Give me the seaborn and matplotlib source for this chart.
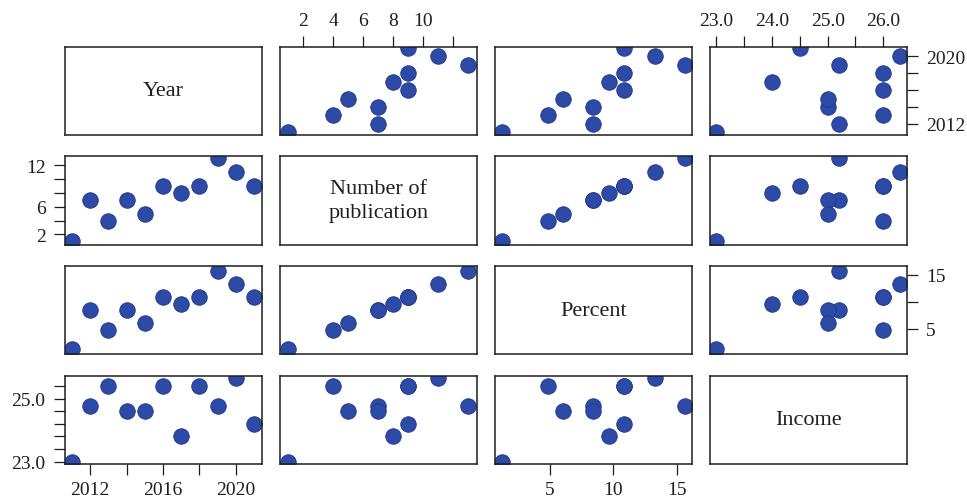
import matplotlib
matplotlib.use("Agg")
import matplotlib.pyplot as plt
import numpy as np
import pandas as pd
import seaborn as sns

# ---------------- data ----------------
year = [2011, 2012, 2013, 2014, 2015, 2016, 2017, 2018, 2019, 2020, 2021]
number = [1, 7, 4, 7, 5, 9, 8, 9, 13, 11, 9]
percent = [1.20, 8.43, 4.82, 8.43, 6.02, 10.84, 9.64, 10.84, 15.66, 13.25, 10.84]
income = [23.0, 25.2, 26.0, 25.0, 25.0, 26.0, 24.0, 26.0, 25.2, 26.3, 24.5]

var_names = ["Year", "Number", "Percent", "Income"]
diag_labels = ["Year", "Number of\npublication", "Percent", "Income"]

# tick positions / labels (as drawn)
year_ticks = [2012, 2014, 2016, 2018, 2020]
year_bottom_labels = ["2012", "", "2016", "", "2020"]
year_right_labels = ["2012", "", "", "", "2020"]
number_ticks = [2, 4, 6, 8, 10, 12]
number_top_labels = ["2", "4", "6", "8", "10", ""]
number_left_labels = ["2", "", "6", "", "", "12"]
percent_ticks = [5, 10, 15]
percent_bottom_labels = ["5", "10", "15"]
percent_right_labels = ["5", "", "15"]
income_ticks = [23.0, 23.5, 24.0, 24.5, 25.0, 25.5, 26.0]
income_top_labels = ["23.0", "", "24.0", "", "25.0", "", "26.0"]
income_left_labels = ["23.0", "", "", "", "", "25.0", ""]

df = pd.DataFrame({"Year": year, "Number": number,
                   "Percent": percent, "Income": income})

sns.set_style("white")
plt.rcParams["font.family"] = ["Liberation Serif", "DejaVu Serif"]

dot_color = "#2D4AA6"
edge_color = "#21388E"
text_color = "#1e1e1e"

g = sns.PairGrid(df, vars=var_names, height=1.2, aspect=2.2,
                 despine=False, diag_sharey=False)
g.map_offdiag(sns.scatterplot, s=125, color=dot_color,
              edgecolor=edge_color, linewidth=0.6)

fig = g.figure
fig.set_size_inches(9.67, 5.02)
fig.subplots_adjust(left=65 / 967, right=906.7 / 967,
                    top=1 - 47.7 / 502, bottom=1 - 465 / 502,
                    wspace=0.094, hspace=0.243)

axes = g.axes
n = len(var_names)

# limits (horizontal per column, vertical per row)
xlims = [(2010.62, 2021.42), (0.45, 13.6), (0.66, 16.18), (22.89, 26.42)]
ylims = [(2010.68, 2021.15), (0.53, 13.3), (0.27, 16.6), (22.91, 26.4)]

for i in range(n):
    for j in range(n):
        ax = axes[i, j]
        ax.set_xlabel("")
        ax.set_ylabel("")
        ax.tick_params(axis="both", which="both",
                       bottom=False, top=False, left=False, right=False,
                       labelbottom=False, labeltop=False,
                       labelleft=False, labelright=False)
        for sp in ax.spines.values():
            sp.set_visible(True)
            sp.set_linewidth(1.1)
            sp.set_color(text_color)
        if i == j:
            ax.text(0.5, 0.5, diag_labels[i], ha="center", va="center",
                    transform=ax.transAxes, fontsize=16,
                    color=text_color, linespacing=1.3)

for j in range(n):
    axes[0, j].set_xlim(*xlims[j])
for i in range(n):
    axes[i, 0].set_ylim(*ylims[i])

xtick_kw = dict(length=8, width=0.9, pad=4.5, labelsize=14,
                colors=text_color)
ytick_kw = dict(length=8, width=0.9, pad=6, labelsize=14,
                colors=text_color)

# Year: bottom (row 4, col 1), right (row 1, col 4)
ax = axes[3, 0]
ax.set_xticks(year_ticks)
ax.set_xticklabels(year_bottom_labels)
ax.tick_params(axis="x", bottom=True, labelbottom=True, **xtick_kw)
ax = axes[0, 3]
ax.set_yticks(year_ticks)
ax.set_yticklabels(year_right_labels)
ax.tick_params(axis="y", right=True, labelright=True, **ytick_kw)

# Number: top (row 1, col 2), left (row 2, col 1)
ax = axes[0, 1]
ax.set_xticks(number_ticks)
ax.set_xticklabels(number_top_labels)
ax.tick_params(axis="x", top=True, labeltop=True, **xtick_kw)
ax = axes[1, 0]
ax.set_yticks(number_ticks)
ax.set_yticklabels(number_left_labels)
ax.tick_params(axis="y", left=True, labelleft=True, **ytick_kw)

# Percent: bottom (row 4, col 3), right (row 3, col 4)
ax = axes[3, 2]
ax.set_xticks(percent_ticks)
ax.set_xticklabels(percent_bottom_labels)
ax.tick_params(axis="x", bottom=True, labelbottom=True, **xtick_kw)
ax = axes[2, 3]
ax.set_yticks(percent_ticks)
ax.set_yticklabels(percent_right_labels)
ax.tick_params(axis="y", right=True, labelright=True, **ytick_kw)

# Income: top (row 1, col 4), left (row 4, col 1)
ax = axes[0, 3]
ax.set_xticks(income_ticks)
ax.set_xticklabels(income_top_labels)
ax.tick_params(axis="x", top=True, labeltop=True, **xtick_kw)
ax = axes[3, 0]
ax.set_yticks(income_ticks)
ax.set_yticklabels(income_left_labels)
ax.tick_params(axis="y", left=True, labelleft=True, **ytick_kw)

fig.savefig("out.png", dpi=100, facecolor="white")
